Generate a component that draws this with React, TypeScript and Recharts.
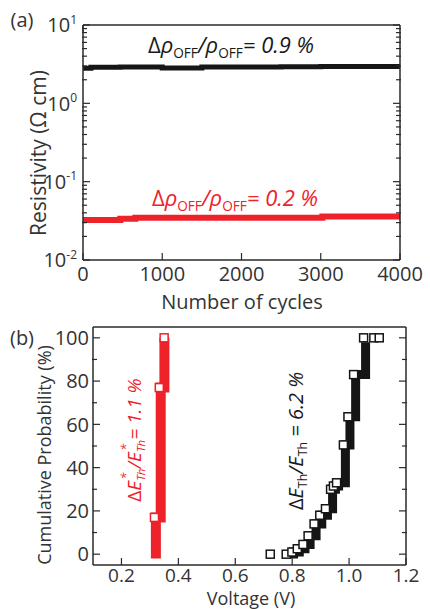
import { ComposedChart, Line, LineChart, Scatter, XAxis, YAxis } from 'recharts';

// (a) resistivity vs cycle number
const cycles = [0, 100, 470, 660, 1000, 1500, 2000, 2500, 3000, 3020, 3500, 4000];
const rhoBlack = [2.8, 2.88, 2.9, 2.9, 2.82, 2.9, 2.92, 2.93, 2.95, 2.96, 2.96, 2.96];
const rhoRed = [0.0325, 0.0325, 0.0335, 0.0345, 0.0345, 0.0345, 0.0345, 0.0345, 0.0345, 0.036, 0.036, 0.036];
const cycleTicks = [0, 1000, 2000, 3000, 4000];
const cycleMinor = [200, 400, 600, 800, 1200, 1400, 1600, 1800, 2200, 2400, 2600, 2800, 3200, 3400, 3600, 3800];
const rhoTicks = [0.01, 0.1, 1, 10];
const rhoMinor = [0.02, 0.03, 0.04, 0.05, 0.06, 0.07, 0.08, 0.09, 0.2, 0.3, 0.4, 0.5, 0.6, 0.7, 0.8, 0.9, 2, 3, 4, 5, 6, 7, 8, 9];

// (b) cumulative probability vs voltage
const blackSquares = [
  [0.723, 0], [0.779, 0], [0.799, 1], [0.818, 2.5], [0.838, 4.5], [0.856, 8.5], [0.877, 14], [0.897, 18],
  [0.917, 21], [0.935, 30], [0.945, 31.5], [0.956, 33], [0.98, 50.5], [0.996, 63.5], [1.016, 83],
  [1.051, 100], [1.087, 100], [1.106, 100],
];
const blackBand = [
  [0.805, -2], [0.805, 1], [0.825, 2.5], [0.845, 4.5], [0.863, 8.5], [0.884, 14], [0.904, 18], [0.924, 21],
  [0.942, 30], [0.952, 31.5], [0.963, 33], [0.987, 50.5], [1.003, 63.5], [1.023, 83], [1.058, 98],
];
const redSquares = [[0.316, 17], [0.333, 77], [0.35, 100]];
const redBand = [[0.321, -2], [0.321, 17], [0.338, 77], [0.351, 100]];
const voltTicks = [0.2, 0.4, 0.6, 0.8, 1.0, 1.2];
const voltMinor = [0.1, 0.15, 0.25, 0.3, 0.35, 0.45, 0.5, 0.55, 0.65, 0.7, 0.75, 0.85, 0.9, 0.95, 1.05, 1.1, 1.15];
const probTicks = [0, 20, 40, 60, 80, 100];
const probMinor = [10, 30, 50, 70, 90];

const INK = '#2a2a2a';
const RED = '#ee2229';
const FONT = '"Open Sans", sans-serif';

const cycleData = cycles.map((c, i) => ({ c, black: rhoBlack[i], red: rhoRed[i] }));
const toPts = (arr: number[][]) => arr.map(([v, p]) => ({ v, p }));

const blank = () => '';
const tl = { stroke: INK, strokeWidth: 1.2 };

// inward ticks on all four sides; axes need a 1px size or recharts skips them
function frame(xKey: string, xDom: number[], xMajor: number[], xMinor: number[], yDom: number[], yMajor: number[], yMinor: number[], xTick: any, yTick: any, yScale: any, tm: number[]) {
  const common = { type: 'number' as const, allowDataOverflow: true, interval: 0 as const, stroke: INK };
  const line = { stroke: INK, strokeWidth: 1.5 };
  return [
    <XAxis key="xb" xAxisId="b" dataKey={xKey} {...common} domain={xDom} ticks={xMajor} height={1} tickSize={-7} tickMargin={tm[0]} tick={xTick} tickLine={tl} axisLine={line} />,
    <XAxis key="xbm" xAxisId="bm" {...common} domain={xDom} ticks={xMinor} height={1} tickSize={-5} tickFormatter={blank} tickLine={tl} axisLine={false} />,
    <XAxis key="xt" xAxisId="t" orientation="top" {...common} domain={xDom} ticks={xMajor} height={1} tickSize={-7} tickFormatter={blank} tickLine={tl} axisLine={line} />,
    <XAxis key="xtm" xAxisId="tm" orientation="top" {...common} domain={xDom} ticks={xMinor} height={1} tickSize={-5} tickFormatter={blank} tickLine={tl} axisLine={false} />,
    <YAxis key="yl" yAxisId="l" {...common} scale={yScale} domain={yDom} ticks={yMajor} width={1} tickSize={-7} tickMargin={tm[1]} tick={yTick} tickLine={tl} axisLine={line} />,
    <YAxis key="ylm" yAxisId="lm" {...common} scale={yScale} domain={yDom} ticks={yMinor} width={1} tickSize={-5} tickFormatter={blank} tickLine={tl} axisLine={false} />,
    <YAxis key="yr" yAxisId="r" orientation="right" {...common} scale={yScale} domain={yDom} ticks={yMajor} width={1} tickSize={-7} tickFormatter={blank} tickLine={tl} axisLine={line} />,
    <YAxis key="yrm" yAxisId="rm" orientation="right" {...common} scale={yScale} domain={yDom} ticks={yMinor} width={1} tickSize={-5} tickFormatter={blank} tickLine={tl} axisLine={false} />,
  ];
}

const CycleTick = (p: any) => (
  <text x={p.x} y={p.y} dy="0.36em" textAnchor="middle" fontSize={20} fontFamily={FONT} fill="#333">
    {p.payload.value}
  </text>
);

const LogTick = (p: any) => {
  const e = Math.round(Math.log10(p.payload.value));
  return (
    <text x={p.x} y={p.y} dy="0.36em" textAnchor="end" fontSize={20} fontFamily={FONT} fill="#333">
      <tspan>10</tspan>
      <tspan dy="-0.7em" fontSize={12}>{e}</tspan>
    </text>
  );
};

const VoltTick = (p: any) => (
  <text x={p.x} y={p.y} dy="0.36em" textAnchor="middle" fontSize={19} fontFamily={FONT} fill="#333">
    {p.payload.value.toFixed(1)}
  </text>
);

const ProbTick = (p: any) => (
  <text x={p.x} y={p.y} dy="0.36em" textAnchor="end" fontSize={20} fontFamily={FONT} fill="#333">
    {p.payload.value}
  </text>
);

const square = (color: string) => (p: any) => (
  <rect x={p.cx - 4} y={p.cy - 4} width={8} height={8} fill="#fff" stroke={color} strokeWidth={1.5} />
);

function Txt({ x, y, size, color = '#333', rotate = false, italic = false, children }: any) {
  const style: any = {
    position: 'absolute',
    left: x,
    top: y,
    fontSize: size,
    lineHeight: 1,
    color,
    whiteSpace: 'nowrap',
    fontStyle: italic ? 'italic' : 'normal',
    transform: rotate ? 'translate(-50%, -50%) rotate(-90deg)' : 'translate(-50%, -50%)',
  };
  return <div style={style}>{children}</div>;
}

const sub = { fontSize: '0.62em', verticalAlign: '-0.35em', fontStyle: 'normal' as const };

function StarTh() {
  return (
    <span style={{ position: 'relative', fontSize: '0.6em', verticalAlign: '-0.35em' }}>
      Th
      <span style={{ position: 'absolute', left: '0.1em', top: '-1.05em', fontSize: '1.1em' }}>*</span>
    </span>
  );
}

export default function App() {
  return (
    <div style={{ position: 'absolute', left: 0, top: 0, width: 430, height: 609, overflow: 'hidden', fontFamily: FONT, background: '#fff' }}>
      <div style={{ position: 'absolute', left: 0, top: 0 }}>
        <LineChart width={430} height={300} data={cycleData} margin={{ top: 23, right: 28, bottom: 38, left: 81 }}>
          {frame('c', [0, 4000], cycleTicks, cycleMinor, [0.01, 10], rhoTicks, rhoMinor, CycleTick, LogTick, 'log', [21, 13])}
          <Line xAxisId="b" yAxisId="l" type="stepAfter" dataKey="black" stroke="#161616" strokeWidth={5} dot={false} activeDot={false} isAnimationActive={false} />
          <Line xAxisId="b" yAxisId="l" type="stepAfter" dataKey="red" stroke={RED} strokeWidth={6} dot={false} activeDot={false} isAnimationActive={false} />
        </LineChart>
      </div>
      <div style={{ position: 'absolute', left: 0, top: 300 }}>
        <ComposedChart width={430} height={309} margin={{ top: 25, right: 22, bottom: 42, left: 91 }}>
          {frame('v', [0.1, 1.2], voltTicks, voltMinor, [-5, 105], probTicks, probMinor, VoltTick, ProbTick, 'linear', [17, 11])}
          <Line xAxisId="b" yAxisId="l" data={toPts(blackBand)} type="stepAfter" dataKey="p" stroke="#151515" strokeWidth={9} dot={false} activeDot={false} isAnimationActive={false} />
          <Line xAxisId="b" yAxisId="l" data={toPts(redBand)} type="stepAfter" dataKey="p" stroke={RED} strokeWidth={10} dot={false} activeDot={false} isAnimationActive={false} />
          <Scatter xAxisId="b" yAxisId="l" data={toPts(blackSquares)} dataKey="p" shape={square('#151515')} isAnimationActive={false} />
          <Scatter xAxisId="b" yAxisId="l" data={toPts(redSquares)} dataKey="p" shape={square(RED)} isAnimationActive={false} />
        </ComposedChart>
      </div>

      <Txt x={22} y={20} size={20}>(a)</Txt>
      <Txt x={22} y={338} size={20}>(b)</Txt>

      <Txt x={242} y={302} size={20}>Number of cycles</Txt>
      <Txt x={38} y={153} size={21} rotate>Resistivity (Ω cm)</Txt>
      <Txt x={251} y={598} size={18}>Voltage (V)</Txt>
      <Txt x={44} y={455} size={18} rotate>Cumulative Probability (%)</Txt>

      <Txt x={231} y={46} size={22} color="#1a1a1a" italic>
        <span style={{ fontStyle: 'normal' }}>Δ</span>ρ<span style={sub}>OFF</span>/ρ<span style={sub}>OFF</span>= 0.9 %
      </Txt>
      <Txt x={235} y={199} size={22} color={RED} italic>
        <span style={{ fontStyle: 'normal' }}>Δ</span>ρ<span style={sub}>OFF</span>/ρ<span style={sub}>OFF</span>= 0.2 %
      </Txt>

      <Txt x={136} y={440} size={19} color={RED} rotate italic>
        <span style={{ fontStyle: 'normal' }}>Δ</span>E<StarTh />/E<StarTh />= 1.1 %
      </Txt>
      <Txt x={298} y={441} size={20} color="#1a1a1a" rotate italic>
        <span style={{ fontStyle: 'normal' }}>Δ</span>E<span style={sub}>Th</span>/E<span style={sub}>Th</span> = 6.2 %
      </Txt>
    </div>
  );
}
